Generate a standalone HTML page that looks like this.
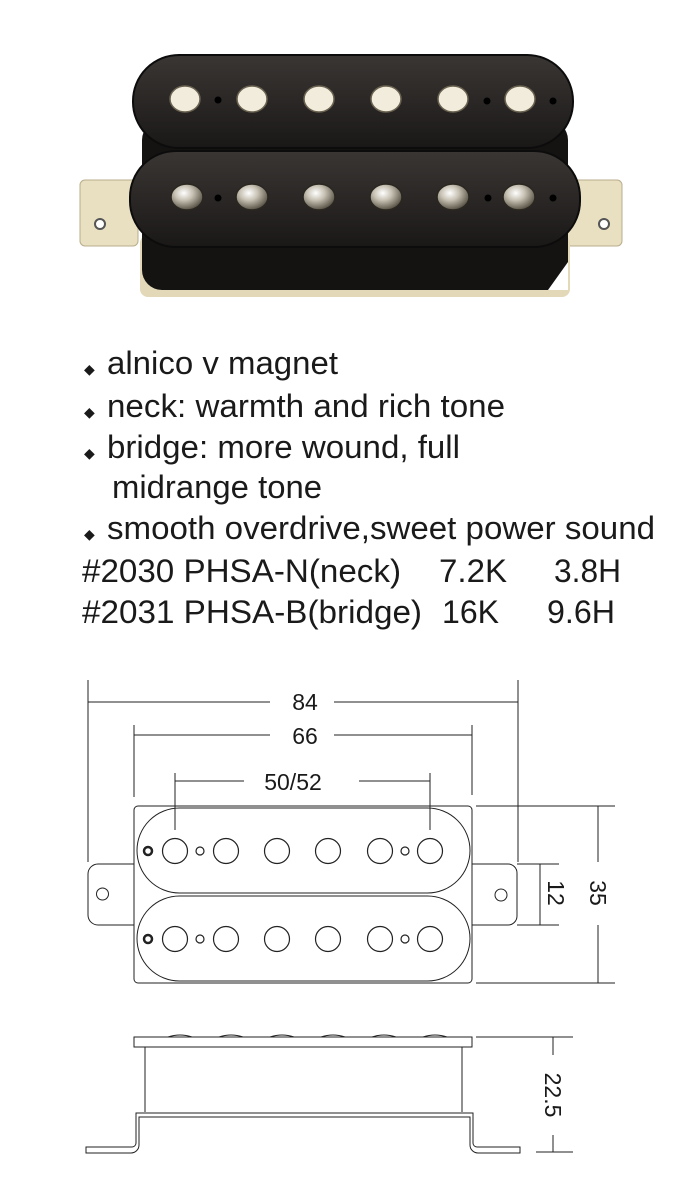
<!DOCTYPE html>
<html><head><meta charset="utf-8"><style>
html,body{margin:0;padding:0;background:#fff;}
svg{display:block;}
text{font-family:"Liberation Sans",sans-serif;fill:#1a1a1a;}
</style></head><body>
<svg width="700" height="1200" viewBox="0 0 700 1200" xmlns="http://www.w3.org/2000/svg">
<defs>
<radialGradient id="chrome" cx="0.4" cy="0.35" r="0.7">
<stop offset="0" stop-color="#fff"/><stop offset="0.4" stop-color="#c8c2b4"/><stop offset="1" stop-color="#4a4438"/>
</radialGradient>
<linearGradient id="blk" x1="0" y1="0" x2="0" y2="1">
<stop offset="0" stop-color="#3a3634"/><stop offset="1" stop-color="#1a1817"/>
</linearGradient>
</defs>
<!-- photo -->
<rect x="80" y="180" width="58" height="66" rx="5" fill="#e9dfc1" stroke="#b9ad8c"/>
<rect x="566" y="180" width="56" height="66" rx="5" fill="#e9dfc1" stroke="#b9ad8c"/>
<circle cx="100" cy="224" r="5" fill="#fff" stroke="#555" stroke-width="2"/>
<circle cx="604" cy="224" r="5" fill="#fff" stroke="#555" stroke-width="2"/>
<rect x="140" y="235" width="430" height="62" rx="8" fill="#e3d8b8"/>
<rect x="142" y="120" width="426" height="170" rx="20" fill="#141312"/>
<path d="M548 290 L568 262 L568 290 Z" fill="#fff"/>
<rect x="133" y="55" width="440" height="93" rx="46" fill="url(#blk)" stroke="#0d0c0c" stroke-width="2"/>
<rect x="130" y="151" width="450" height="96" rx="46" fill="url(#blk)" stroke="#0d0c0c" stroke-width="2"/>
<g fill="#f2ecdc" stroke="#6a6250" stroke-width="1.5">
<ellipse cx="185" cy="99" rx="15" ry="13"/><ellipse cx="252" cy="99" rx="15" ry="13"/>
<ellipse cx="319" cy="99" rx="15" ry="13"/><ellipse cx="386" cy="99" rx="15" ry="13"/>
<ellipse cx="453" cy="99" rx="15" ry="13"/><ellipse cx="520" cy="99" rx="15" ry="13"/>
</g>
<g fill="url(#chrome)" stroke="#2a2620" stroke-width="1.5">
<ellipse cx="187" cy="197" rx="16" ry="13"/><ellipse cx="252" cy="197" rx="16" ry="13"/>
<ellipse cx="319" cy="197" rx="16" ry="13"/><ellipse cx="386" cy="197" rx="16" ry="13"/>
<ellipse cx="453" cy="197" rx="16" ry="13"/><ellipse cx="519" cy="197" rx="16" ry="13"/>
</g>
<g fill="#000"><circle cx="218" cy="100" r="3.5"/><circle cx="487" cy="101" r="3.5"/><circle cx="553" cy="101" r="3.5"/>
<circle cx="218" cy="198" r="3.5"/><circle cx="488" cy="198" r="3.5"/><circle cx="553" cy="198" r="3.5"/></g>

<!-- text -->
<g font-size="32">
<text x="84" y="374" font-size="14">◆</text><text x="107" y="374" textLength="231" lengthAdjust="spacingAndGlyphs">alnico v magnet</text>
<text x="84" y="417" font-size="14">◆</text><text x="107" y="417" textLength="398" lengthAdjust="spacingAndGlyphs">neck: warmth and rich tone</text>
<text x="84" y="458" font-size="14">◆</text><text x="107" y="458" textLength="353" lengthAdjust="spacingAndGlyphs">bridge: more wound, full</text>
<text x="112" y="498" textLength="210" lengthAdjust="spacingAndGlyphs">midrange tone</text>
<text x="84" y="539" font-size="14">◆</text><text x="107" y="539" textLength="548" lengthAdjust="spacingAndGlyphs">smooth overdrive,sweet power sound</text>
<text x="82" y="582" textLength="319" lengthAdjust="spacingAndGlyphs">#2030 PHSA-N(neck)</text>
<text x="439" y="582" textLength="68" lengthAdjust="spacingAndGlyphs">7.2K</text><text x="554" y="582" textLength="67" lengthAdjust="spacingAndGlyphs">3.8H</text>
<text x="82" y="623" textLength="340" lengthAdjust="spacingAndGlyphs">#2031 PHSA-B(bridge)</text>
<text x="442" y="623" textLength="57" lengthAdjust="spacingAndGlyphs">16K</text><text x="547" y="623" textLength="68" lengthAdjust="spacingAndGlyphs">9.6H</text>
</g>

<!-- drawing -->
<g stroke="#222" stroke-width="1" fill="none">
<line x1="88" y1="680" x2="88" y2="862"/><line x1="518" y1="680" x2="518" y2="862"/>
<line x1="88" y1="702" x2="270" y2="702"/><line x1="334" y1="702" x2="518" y2="702"/>
<line x1="134" y1="725" x2="134" y2="797"/><line x1="472" y1="725" x2="472" y2="795"/>
<line x1="134" y1="735" x2="270" y2="735"/><line x1="334" y1="735" x2="472" y2="735"/>
<line x1="175" y1="773" x2="175" y2="830"/><line x1="430" y1="773" x2="430" y2="830"/>
<line x1="175" y1="781" x2="244" y2="781"/><line x1="359" y1="781" x2="430" y2="781"/>
<rect x="134" y="806" width="338" height="177" rx="4"/>
<rect x="137" y="808" width="333" height="85" rx="42.5"/>
<rect x="137" y="896" width="333" height="85" rx="42.5"/>
<path d="M134 864 H98 a10 10 0 0 0 -10 10 V915 a10 10 0 0 0 10 10 H134"/>
<path d="M472 864 H508 a9 9 0 0 1 9 9 V916 a9 9 0 0 1 -9 9 H472"/>
<circle cx="102.5" cy="894" r="6"/><circle cx="501" cy="895" r="6"/>
<g stroke-width="1.2">
<circle cx="175" cy="851" r="12.5"/><circle cx="226" cy="851" r="12.5"/><circle cx="277" cy="851" r="12.5"/>
<circle cx="328" cy="851" r="12.5"/><circle cx="380" cy="851" r="12.5"/><circle cx="430" cy="851" r="12.5"/>
<circle cx="200" cy="851" r="4"/><circle cx="405" cy="851" r="4"/>
<circle cx="175" cy="939" r="12.5"/><circle cx="226" cy="939" r="12.5"/><circle cx="277" cy="939" r="12.5"/>
<circle cx="328" cy="939" r="12.5"/><circle cx="380" cy="939" r="12.5"/><circle cx="430" cy="939" r="12.5"/>
<circle cx="200" cy="939" r="4"/><circle cx="405" cy="939" r="4"/>
</g>
<circle cx="148" cy="851" r="4" stroke-width="2.5"/><circle cx="148" cy="939" r="4" stroke-width="2.5"/>
<line x1="476" y1="806" x2="615" y2="806"/><line x1="476" y1="983" x2="615" y2="983"/>
<line x1="598" y1="806" x2="598" y2="862"/><line x1="598" y1="925" x2="598" y2="983"/>
<line x1="517" y1="864" x2="559" y2="864"/><line x1="517" y1="925" x2="559" y2="925"/>
<line x1="540" y1="864" x2="540" y2="925"/>
<!-- side view -->
<rect x="134" y="1037" width="338" height="10"/>
<line x1="145" y1="1047" x2="145" y2="1112"/><line x1="462" y1="1047" x2="462" y2="1112"/>
<path d="M86 1147 H132 a4 4 0 0 0 4 -4 V1113 H473 V1143 a4 4 0 0 0 4 4 H520 V1153 H478 a8 8 0 0 1 -8 -8 V1117 H139 V1145 a8 8 0 0 1 -8 8 H86 Z"/>
<path d="M168 1037 q12 -4 24 0 M219 1037 q12 -4 24 0 M270 1037 q12 -4 24 0 M321 1037 q12 -4 24 0 M372 1037 q12 -4 24 0 M423 1037 q12 -4 24 0"/>
<line x1="476" y1="1037" x2="573" y2="1037"/><line x1="536" y1="1152" x2="573" y2="1152"/>
<line x1="553" y1="1037" x2="553" y2="1055"/><line x1="553" y1="1135" x2="553" y2="1152"/>
</g>
<g font-size="23">
<text x="305" y="710" text-anchor="middle">84</text>
<text x="305" y="744" text-anchor="middle">66</text>
<text x="293" y="790" text-anchor="middle">50/52</text>
<text transform="translate(590,893) rotate(90)" text-anchor="middle">35</text>
<text transform="translate(548,893) rotate(90)" text-anchor="middle">12</text>
<text transform="translate(545,1095) rotate(90)" text-anchor="middle">22.5</text>
</g>
</svg>
</body></html>
